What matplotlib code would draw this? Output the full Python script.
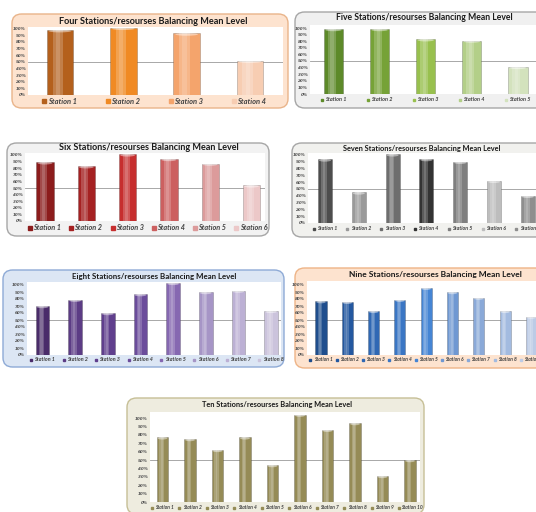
import numpy as np
import matplotlib
matplotlib.use("Agg")
import matplotlib.pyplot as plt
from matplotlib.patches import FancyBboxPatch, Ellipse
from matplotlib import transforms as mtrans

W, H = 536, 512

# values (fraction of 100%)
four_vals = [0.975, 1.01, 0.925, 0.515]
five_vals = [0.985, 0.985, 0.83, 0.81, 0.41]
six_vals = [0.89, 0.83, 1.01, 0.94, 0.87, 0.54]
seven_vals = [0.935, 0.45, 1.01, 0.94, 0.90, 0.62, 0.40]
eight_vals = [0.70, 0.79, 0.60, 0.87, 1.03, 0.90, 0.92, 0.63]
nine_vals = [0.77, 0.76, 0.63, 0.79, 0.96, 0.90, 0.82, 0.63, 0.55]
ten_vals = [0.77, 0.75, 0.62, 0.77, 0.44, 1.04, 0.86, 0.94, 0.31, 0.50]

titles = ["Four", "Five", "Six", "Seven", "Eight", "Nine", "Ten"]

four_colors = ["#b4601c", "#f08a24", "#f4a46c", "#f7cdb2"]
five_colors = ["#5d8a29", "#76a237", "#98c04e", "#b3cf88", "#d3e2bd"]
six_colors = ["#8c1c1c", "#a52122", "#c62e2e", "#cc6060", "#dc9b9b", "#ecc8c8"]
seven_colors = ["#4d4d4d", "#9a9a9a", "#6e6e6e", "#333333", "#7f7f7f", "#bdbdbd", "#8e8e8e"]
eight_colors = ["#4a2c6a", "#5c3c85", "#603f8d", "#6b4c9b", "#8668b1", "#a695c6", "#bcb0d4", "#cbc3dc"]
nine_colors = ["#1f4e8d", "#2458a0", "#2f68b4", "#3a76c4", "#4585d4", "#6f98d2", "#8aa9d8", "#a3bbe0", "#bccbe6"]
ten_colors = ["#958b56"] * 10

# panel geometry in pixels: box (l, t, r, b), title centre, white top, y100, y0,
# first bar centre, bar spacing, plot left, plot right, legend y
panels = [
    dict(vals=four_vals, colors=four_colors, box=(12, 14, 288, 108), face="#fde3cf", edge="#e9b48a",
         tx=153, ty=21, wtop=27, y100=28.5, y0=95, c1=60, sp=63.3, L=28, R=283, ly=101, tfs=6.6, lfs=5.4),
    dict(vals=five_vals, colors=five_colors, box=(295, 12, 545, 108), face="#f0f0f0", edge="#a6a6a6",
         tx=424, ty=18, wtop=25, y100=28, y0=94, c1=333.5, sp=46.1, L=310, R=536, ly=99.5, tfs=6.2, lfs=4.0),
    dict(vals=six_vals, colors=six_colors, box=(7, 143, 269, 236), face="#f2f2f2", edge="#a6a6a6",
         tx=149, ty=148, wtop=153, y100=155, y0=221, c1=45, sp=41.3, L=25, R=265, ly=228, tfs=6.5, lfs=5.2),
    dict(vals=seven_vals, colors=seven_colors, box=(292, 143, 545, 237), face="#f1f1ee", edge="#a6a6a6",
         tx=422, ty=149, wtop=153, y100=155, y0=223, c1=325, sp=33.8, L=308, R=536, ly=228.5, tfs=5.3, lfs=3.8),
    dict(vals=eight_vals, colors=eight_colors, box=(3, 270, 284, 367), face="#dce6f4", edge="#8eaad6",
         tx=154, ty=276, wtop=282, y100=285, y0=355, c1=42.5, sp=32.65, L=27, R=281, ly=359.5, tfs=5.7, lfs=3.9),
    dict(vals=nine_vals, colors=nine_colors, box=(295, 268, 545, 368), face="#fde3cf", edge="#eeb487",
         tx=435, ty=275, wtop=281, y100=285, y0=355, c1=321, sp=26.3, L=307, R=536, ly=359.5, tfs=6.0, lfs=3.5),
    dict(vals=ten_vals, colors=ten_colors, box=(127, 398, 424, 514), face="#eeecdf", edge="#c6bf96",
         tx=277, ty=405, wtop=412, y100=418, y0=502, c1=162.5, sp=27.5, L=150, R=420, ly=507.5, tfs=5.35, lfs=3.5),
]

pct_labels = [f"{p}%" for p in range(0, 101, 10)]
pct_ticks = np.arange(0, 1.01, 0.1)

fig = plt.figure(figsize=(W / 100, H / 100), dpi=100)
fig.patch.set_facecolor("white")


def fx(x):
    return x / W


def fy(y):
    return 1 - y / H


for name, p in zip(titles, panels):
    l, t, r, b = p["box"]
    box = FancyBboxPatch((fx(l), fy(b)), fx(r) - fx(l), fy(t) - fy(b),
                         boxstyle="round,pad=0,rounding_size=0.018",
                         transform=fig.transFigure, facecolor=p["face"],
                         edgecolor=p["edge"], linewidth=1.0, zorder=0)
    fig.add_artist(box)
    fig.text(fx(p["tx"]), fy(p["ty"]), f"{name} Stations/resourses Balancing Mean Level",
             ha="center", va="center", fontsize=p["tfs"], fontweight="bold",
             family="Lato", color="#1a1a1a")

    ax = fig.add_axes([fx(p["L"]), fy(p["y0"]), fx(p["R"]) - fx(p["L"]), fy(p["wtop"]) - fy(p["y0"])])
    ax.set_facecolor("white")
    n = len(p["vals"])
    ax.set_xlim((p["L"] - p["c1"]) / p["sp"], (p["R"] - p["c1"]) / p["sp"])
    ax.set_ylim(0, (p["y0"] - p["wtop"]) / (p["y0"] - p["y100"]))
    x = np.arange(n)
    w = 0.42
    ax.axhline(0.5, color="#9a9a9a", lw=0.6, zorder=1)
    ax.bar(x, p["vals"], width=w, color=p["colors"], edgecolor="#00000050", linewidth=0.4, zorder=2)
    ax.bar(x - w * 0.08, p["vals"], width=w * 0.4, color="white", alpha=0.2, linewidth=0, zorder=3)
    ax.bar(x - w * 0.08, p["vals"], width=w * 0.16, color="white", alpha=0.15, linewidth=0, zorder=3)

    # light cap on top of each bar
    cap_h = 2.6 / (p["y0"] - p["y100"])
    for i, v in enumerate(p["vals"]):
        ax.add_patch(Ellipse((i, v - cap_h * 0.35), w * 0.85, cap_h, facecolor="white",
                             alpha=0.45, linewidth=0, zorder=4))

    ax.set_yticks(pct_ticks)
    ax.set_yticklabels(pct_labels, fontsize=3.0, fontstyle="italic", fontweight="bold", color="#555555")
    ax.tick_params(axis="y", length=0, pad=1.5)
    ax.set_xticks([])
    for s in ax.spines.values():
        s.set_visible(False)

    # legend entries under each bar
    trans = mtrans.blended_transform_factory(ax.transData, fig.transFigure)
    tw = 9 * 0.42 * p["lfs"]
    for i in range(n):
        label = f"Station {i + 1}"
        ax.annotate(label, xy=(i, fy(p["ly"])), xycoords=trans, xytext=(1.5, 0),
                    textcoords="offset points", ha="center", va="center",
                    fontsize=p["lfs"], fontstyle="italic", fontweight="bold",
                    family="Lato", color="#404040", annotation_clip=False)
        ax.plot([i], [fy(p["ly"])], marker="s", markersize=p["lfs"] * 0.45,
                color=p["colors"][i], transform=mtrans.offset_copy(trans, fig=fig, x=-tw / 2 - 1.0, units="points"),
                clip_on=False, linestyle="none")

fig.savefig("out.png", dpi=100, facecolor="white")
